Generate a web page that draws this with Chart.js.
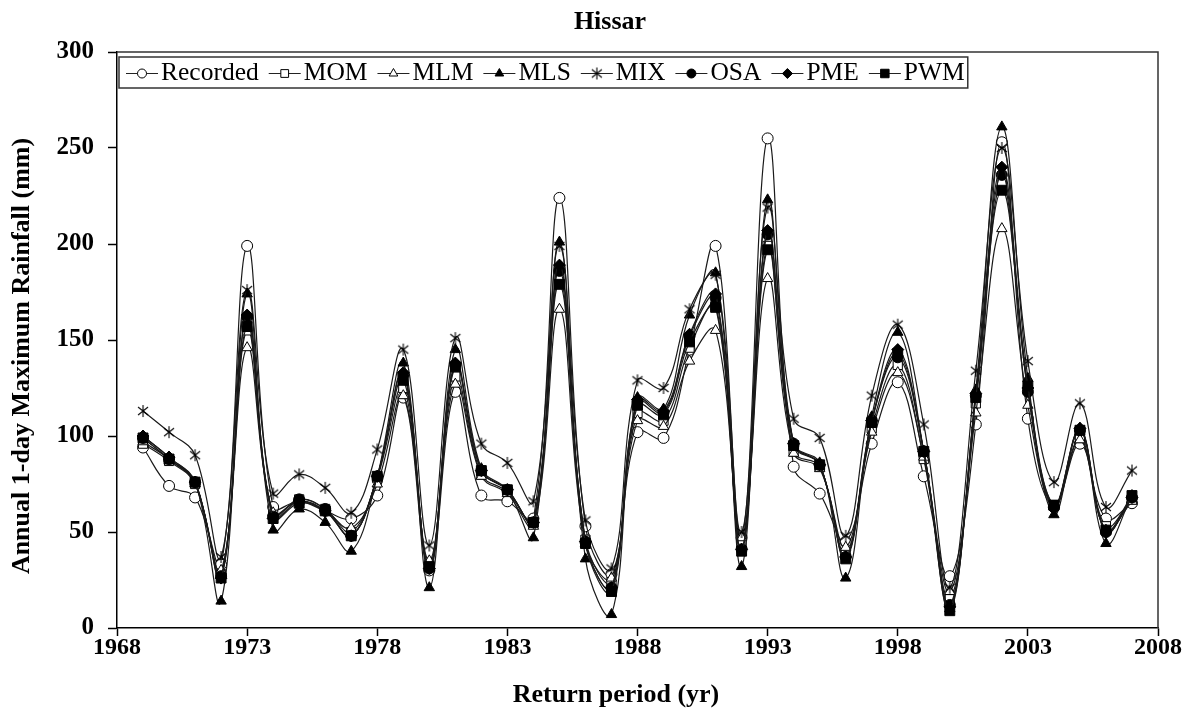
<!DOCTYPE html>
<html>
<head>
<meta charset="utf-8">
<title>Hissar</title>
<script src="https://cdn.jsdelivr.net/npm/chart.js@4.4.1/dist/chart.umd.min.js"></script>
<style>
  body { margin: 0; background: #fff; }
  #wrap { width: 1190px; height: 714px; }
</style>
</head>
<body>
<div id="wrap"><canvas id="rainChart" width="1190" height="714"></canvas></div>
<script>
// annual 1-day maximum rainfall (mm), Hissar
const years = [1969, 1970, 1971, 1972, 1973, 1974, 1975, 1976, 1977, 1978,
               1979, 1980, 1981, 1982, 1983, 1984, 1985, 1986, 1987, 1988,
               1989, 1990, 1991, 1992, 1993, 1994, 1995, 1996, 1997, 1998,
               1999, 2000, 2001, 2002, 2003, 2004, 2005, 2006, 2007];

const recorded = [94, 74, 68, 33, 199, 63, 66, 61, 57, 69,
                  120, 30, 123, 69, 66, 57, 224, 53, 28, 102,
                  99, 145, 199, 47, 255, 84, 70, 45, 96, 128,
                  79, 27, 106, 253, 109, 63, 96, 57, 65];
const mom = [96, 87, 75, 28, 155, 59, 67, 62, 50, 78,
             125, 33, 131, 80, 71, 55, 182, 46, 24, 112,
             108, 146, 168, 44, 199, 92, 84, 39, 104, 137,
             88, 15, 117, 232, 124, 64, 99, 53, 67];
const mlm = [97, 88, 75, 30, 146, 60, 66, 61, 52, 75,
             121, 35, 127, 79, 70, 53, 166, 44, 26, 108,
             105, 139, 155, 47, 182, 91, 83, 42, 102, 133,
             89, 19, 112, 208, 116, 63, 98, 51, 66];
const mls = [100, 89, 76, 14, 174, 51, 62, 55, 40, 79,
             138, 21, 145, 83, 72, 47, 201, 36, 7, 120,
             114, 163, 185, 32, 223, 96, 86, 26, 110, 154,
             92, 10, 124, 261, 130, 59, 104, 44, 69];
const mix = [113, 102, 90, 37, 176, 70, 80, 73, 60, 93,
             145, 43, 151, 96, 86, 66, 199, 56, 31, 129,
             125, 166, 184, 50, 219, 109, 99, 48, 121, 158,
             106, 21, 134, 250, 139, 76, 117, 63, 82];
const osa = [99, 88, 76, 27, 162, 58, 67, 62, 48, 79,
             132, 31, 137, 82, 72, 55, 186, 45, 21, 118,
             112, 152, 172, 41, 205, 96, 85, 37, 108, 141,
             92, 12, 121, 236, 123, 63, 103, 50, 68];
const pme = [100, 89, 76, 26, 163, 57, 66, 61, 48, 79,
             133, 31, 138, 82, 72, 55, 189, 45, 21, 119,
             113, 153, 174, 41, 207, 96, 85, 37, 108, 145,
             92, 11, 122, 240, 125, 63, 104, 50, 68];
const pwm = [99, 88, 76, 26, 157, 57, 65, 61, 48, 79,
             129, 32, 136, 82, 72, 55, 179, 44, 19, 116,
             111, 149, 167, 40, 197, 95, 85, 36, 107, 143,
             92, 9, 120, 228, 126, 64, 103, 51, 69];

const seriesNames = ['Recorded', 'MOM', 'MLM', 'MLS', 'MIX', 'OSA', 'PME', 'PWM'];
const seriesValues = [recorded, mom, mlm, mls, mix, osa, pme, pwm];

const chartTitle = 'Hissar';
const xTitle = 'Return period (yr)';
const yTitle = 'Annual 1-day Maximum Rainfall (mm)';

const SERIF = '"Liberation Serif", "Times New Roman", serif';

// asterisk marker for MIX (x with a vertical bar)
const asterisk = document.createElement('canvas');
asterisk.width = 14;
asterisk.height = 14;
(function () {
    const c = asterisk.getContext('2d');
    c.strokeStyle = '#000';
    c.lineWidth = 1.1;
    c.beginPath();
    c.moveTo(7, 1); c.lineTo(7, 13);
    c.moveTo(2, 3); c.lineTo(12, 11);
    c.moveTo(12, 3); c.lineTo(2, 11);
    c.stroke();
})();

const markers = [
    { style: 'circle', r: 5.5, fill: '#fff' },
    { style: 'rect', r: 6.5, fill: '#fff' },
    { style: 'triangle', r: 6, fill: '#fff' },
    { style: 'triangle', r: 6, fill: '#000' },
    { style: asterisk, r: 6, fill: '#000' },
    { style: 'circle', r: 5.5, fill: '#000' },
    { style: 'rectRot', r: 6, fill: '#000' },
    { style: 'rect', r: 7, fill: '#000' }
];

function drawMark(ctx, style, x, y, r, fill) {
    ctx.save();
    if (style instanceof HTMLCanvasElement) {
        ctx.drawImage(style, x - style.width / 2, y - style.height / 2);
        ctx.restore();
        return;
    }
    ctx.fillStyle = fill;
    ctx.strokeStyle = '#000';
    ctx.lineWidth = 1;
    ctx.beginPath();
    if (style === 'circle') {
        ctx.arc(x, y, r, 0, Math.PI * 2);
    } else if (style === 'rect') {
        const s = r * Math.SQRT1_2;
        ctx.rect(x - s, y - s, 2 * s, 2 * s);
    } else if (style === 'rectRot') {
        ctx.moveTo(x, y - r); ctx.lineTo(x + r, y); ctx.lineTo(x, y + r); ctx.lineTo(x - r, y);
        ctx.closePath();
    } else if (style === 'triangle') {
        let a = 0;
        ctx.moveTo(x + Math.sin(a) * r, y - Math.cos(a) * r);
        a += 2 * Math.PI / 3;
        ctx.lineTo(x + Math.sin(a) * r, y - Math.cos(a) * r);
        a += 2 * Math.PI / 3;
        ctx.lineTo(x + Math.sin(a) * r, y - Math.cos(a) * r);
        ctx.closePath();
    }
    ctx.fill();
    ctx.stroke();
    ctx.restore();
}

// titles, top/right frame and the boxed legend inside the plot
const frameAndLegend = {
    id: 'frameAndLegend',
    afterDraw(chart) {
        const { ctx, chartArea: a } = chart;
        ctx.save();
        ctx.strokeStyle = '#333';
        ctx.lineWidth = 1.5;
        ctx.beginPath();
        ctx.moveTo(a.left, a.top);
        ctx.lineTo(a.right, a.top);
        ctx.lineTo(a.right, a.bottom);
        ctx.stroke();

        // titles
        ctx.fillStyle = '#000';
        ctx.textAlign = 'center';
        ctx.textBaseline = 'middle';
        ctx.font = 'bold 26px ' + SERIF;
        ctx.fillText(chartTitle, 610, 22);
        ctx.fillText(xTitle, 616, 695);
        ctx.save();
        ctx.translate(22, 356);
        ctx.rotate(-Math.PI / 2);
        ctx.fillText(yTitle, 0, 0);
        ctx.restore();

        // legend
        ctx.textAlign = 'left';
        ctx.font = '25.5px ' + SERIF;
        const top = a.top + 5, h = 31, cy = top + h / 2 + 1;
        let x = a.left + 9;
        seriesNames.forEach((name, i) => {
            ctx.strokeStyle = '#222';
            ctx.lineWidth = 1;
            ctx.beginPath();
            ctx.moveTo(x, cy);
            ctx.lineTo(x + 32, cy);
            ctx.stroke();
            drawMark(ctx, markers[i].style, x + 16, cy, markers[i].r - 1, markers[i].fill);
            ctx.fillStyle = '#000';
            ctx.fillText(name, x + 35, cy);
            x += 35 + ctx.measureText(name).width + 10;
        });
        ctx.strokeStyle = '#333';
        ctx.lineWidth = 1.5;
        ctx.strokeRect(a.left + 2, top, x - 7 - (a.left + 2), h);
        ctx.restore();
    }
};

const datasets = seriesNames.map((name, i) => ({
    label: name,
    data: seriesValues[i].map((v, j) => ({ x: years[j], y: v })),
    borderColor: '#1a1a1a',
    borderWidth: 1.2,
    tension: 0.4,
    pointStyle: markers[i].style,
    pointRadius: markers[i].r,
    pointHoverRadius: markers[i].r,
    pointBackgroundColor: markers[i].fill,
    pointBorderColor: '#000',
    pointBorderWidth: 1,
    order: seriesNames.length - i
}));

const ctx = document.getElementById('rainChart').getContext('2d');
const rainChart = new Chart(ctx, {
    type: 'line',
    data: { datasets: datasets },
    options: {
        responsive: false,
        animation: false,
        layout: { padding: { left: 0, right: 32, top: 52, bottom: 0 } },
        plugins: {
            legend: { display: false },
            tooltip: { enabled: false },
            title: { display: false }
        },
        scales: {
            x: {
                type: 'linear',
                min: 1968,
                max: 2008,
                afterFit: s => { s.height = 86; },
                border: { color: '#000', width: 1.5 },
                grid: { drawOnChartArea: false, drawTicks: true, tickLength: 8, color: '#000', tickWidth: 1.5 },
                ticks: {
                    stepSize: 5,
                    color: '#000',
                    padding: 0,
                    font: { family: SERIF, size: 24, weight: 'bold', lineHeight: 1 },
                    callback: v => String(v)
                }
            },
            y: {
                min: 0,
                max: 300,
                afterFit: s => { s.width = 117; },
                border: { color: '#000', width: 1.5 },
                grid: { drawOnChartArea: false, drawTicks: true, tickLength: 9, color: '#000', tickWidth: 1.5 },
                ticks: {
                    stepSize: 50,
                    color: '#000',
                    padding: 14,
                    font: { family: SERIF, size: 25, weight: 'bold' }
                }
            }
        }
    },
    plugins: [frameAndLegend]
});
</script>
</body>
</html>
